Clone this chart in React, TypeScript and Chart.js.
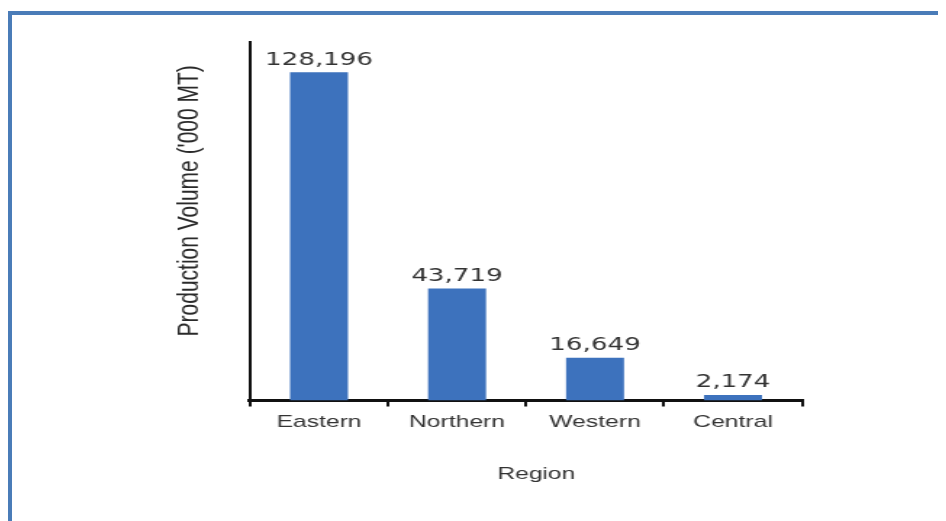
import React, { useEffect, useRef } from "react";
import { Chart, registerables } from "chart.js";

Chart.register(...registerables);

const regions = ["Eastern", "Northern", "Western", "Central"];
const production = [128196, 43719, 16649, 2174];
const yMax = 140000;
const yTitle = "Production Volume ('000 MT)";
const xTitle = "Region";

const STRETCH = 1.45;
const LOGICAL_W = 647;
const LOGICAL_H = 513;

const valueLabels = {
  id: "valueLabels",
  afterDatasetsDraw(chart: any) {
    const ctx = chart.ctx;
    const meta = chart.getDatasetMeta(0);
    const data = chart.data.datasets[0].data as number[];
    ctx.save();
    ctx.font = "18px 'DejaVu Sans'";
    ctx.fillStyle = "#333333";
    ctx.textAlign = "center";
    ctx.textBaseline = "alphabetic";
    meta.data.forEach((bar: any, i: number) => {
      ctx.fillText(data[i].toLocaleString("en-US"), bar.x, bar.y - 7.5);
    });
    ctx.restore();
  },
};

export default function App() {
  const ref = useRef<HTMLCanvasElement | null>(null);
  useEffect(() => {
    if (!ref.current) return;
    const chart = new Chart(ref.current, {
      type: "bar",
      data: {
        labels: regions,
        datasets: [
          {
            data: production,
            backgroundColor: "#3d72bd",
            barPercentage: 0.42,
            categoryPercentage: 1,
          },
        ],
      },
      options: {
        animation: false,
        responsive: false,
        devicePixelRatio: 1,
        layout: { padding: { left: 108.2, right: 99.4, top: 34, bottom: 36.8 } },
        plugins: { legend: { display: false }, tooltip: { enabled: false } },
        scales: {
          x: {
            offset: true,
            border: { display: true, color: "#111111", width: 3 },
            grid: {
              display: true,
              drawOnChartArea: false,
              drawTicks: true,
              tickLength: 6,
              color: "#111111",
              lineWidth: 2,
              offset: true,
            },
            ticks: {
              padding: 6,
              color: "#333333",
              font: { family: "'Liberation Sans'", size: 17 },
            },
            title: {
              display: true,
              text: "\u00a0\u00a0\u00a0" + xTitle,
              color: "#333333",
              font: { family: "'Liberation Sans'", size: 17 },
              padding: { top: 24.9, bottom: 0 },
            },
          },
          y: {
            min: 0,
            max: yMax,
            border: { display: true, color: "#111111", width: 2 },
            grid: { display: false },
            ticks: { display: false },
            title: {
              display: true,
              text: "\u00a0\u00a0\u00a0\u00a0\u00a0\u00a0\u00a0" + yTitle,
              color: "#2a2a2a",
              font: { family: "'Liberation Sans'", size: 21 },
              padding: { top: 4, bottom: 21.5 },
            },
          },
        },
      },
      plugins: [valueLabels],
    });
    return () => chart.destroy();
  }, []);

  return (
    <div style={{ position: "relative", width: 938, height: 513, overflow: "hidden", background: "#ffffff" }}>
      <div
        style={{
          position: "absolute",
          left: 0,
          top: 3,
          width: 3000,
          height: 3000,
          border: "4px solid #4a7cb8",
        }}
      />
      <div
        style={{
          position: "absolute",
          left: 0,
          top: 0,
          width: LOGICAL_W,
          height: LOGICAL_H,
          transform: `scaleX(${STRETCH})`,
          transformOrigin: "0 0",
        }}
      >
        <canvas ref={ref} width={LOGICAL_W} height={LOGICAL_H} style={{ width: LOGICAL_W, height: LOGICAL_H }} />
      </div>
    </div>
  );
}
